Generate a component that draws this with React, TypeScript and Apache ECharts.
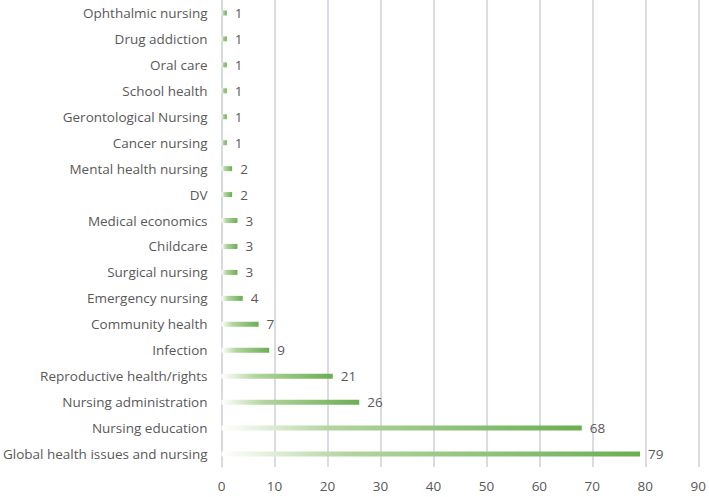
import React, { useEffect, useRef } from "react";
import * as echarts from "echarts";

const categories = [
  "Global health issues and nursing",
  "Nursing education",
  "Nursing administration",
  "Reproductive health/rights",
  "Infection",
  "Community health",
  "Emergency nursing",
  "Surgical nursing",
  "Childcare",
  "Medical economics",
  "DV",
  "Mental health nursing",
  "Cancer nursing",
  "Gerontological Nursing",
  "School health",
  "Oral care",
  "Drug addiction",
  "Ophthalmic nursing",
];
const values = [79, 68, 26, 21, 9, 7, 4, 3, 3, 3, 2, 2, 1, 1, 1, 1, 1, 1];
const xTicks = { min: 0, max: 90, interval: 10 };

export default function App() {
  const ref = useRef<HTMLDivElement>(null);
  useEffect(() => {
    if (!ref.current) return;
    const chart = echarts.init(ref.current, null, { renderer: "svg" });
    const font = "'Open Sans', 'Noto Sans', sans-serif";
    chart.setOption({
      animation: false,
      grid: { left: 219, right: 8, top: 0, bottom: 30, containLabel: false },
      xAxis: {
        type: "value",
        min: xTicks.min,
        max: xTicks.max,
        interval: xTicks.interval,
        axisLine: { show: false },
        axisTick: { show: false },
        splitLine: { show: true, lineStyle: { color: "#cfd1da", width: 1.5 } },
        axisLabel: { color: "#595959", fontSize: 13.5, fontFamily: font, margin: 12 },
      },
      yAxis: {
        type: "category",
        data: categories,
        axisLine: { show: true, lineStyle: { color: "#d6d8e0", width: 1.5 } },
        axisTick: { show: false },
        axisLabel: { color: "#595959", fontSize: 13.5, fontFamily: font, margin: 14 },
      },
      series: [
        {
          type: "bar",
          data: values,
          barWidth: 5,
          itemStyle: {
            color: new echarts.graphic.LinearGradient(0, 0, 1, 0, [
              { offset: 0, color: "#ffffff" },
              { offset: 0.3, color: "#b3d59f" },
              { offset: 1, color: "#6aae52" },
            ]),
          },
          label: {
            show: true,
            position: "right",
            distance: 8,
            color: "#595959",
            fontSize: 13.5,
            fontFamily: font,
          },
        },
      ],
    });
    return () => chart.dispose();
  }, []);
  return (
    <div
      ref={ref}
      style={{ position: "fixed", left: 0, top: 0, width: 709, height: 497, background: "#fff" }}
    />
  );
}
